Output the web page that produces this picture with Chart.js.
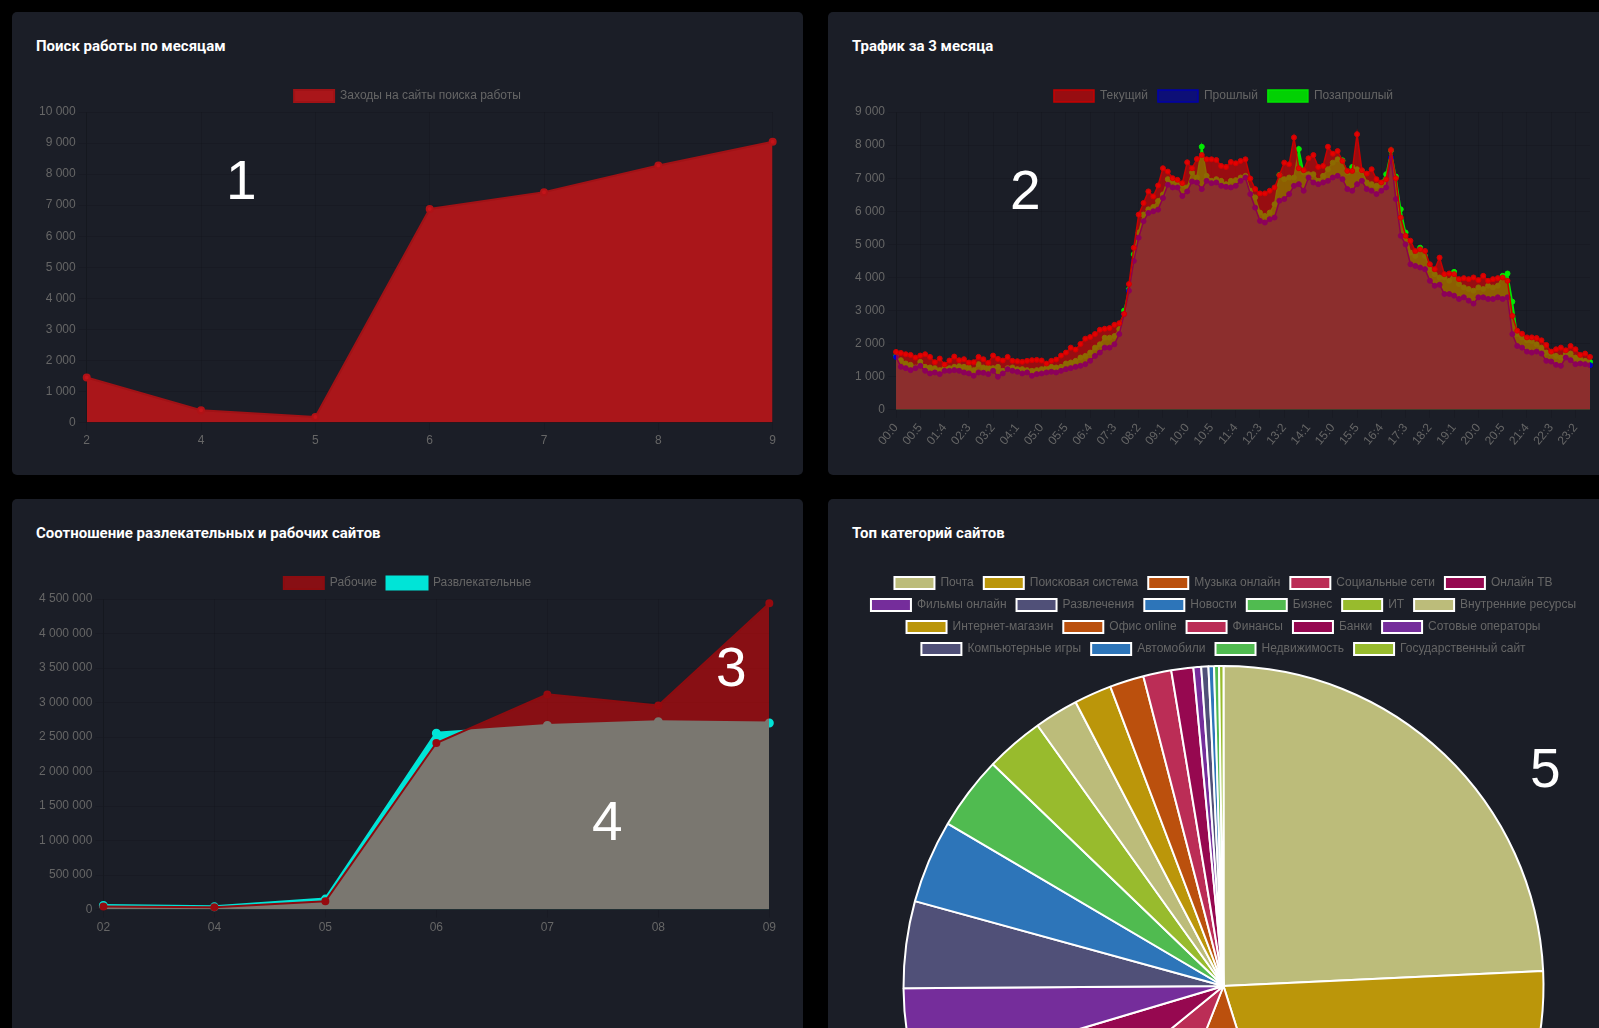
<!DOCTYPE html>
<html lang="ru">
<head>
<meta charset="utf-8">
<title>Статистика</title>
<script src="https://cdn.jsdelivr.net/npm/chart.js@4.4.1/dist/chart.umd.min.js"></script>
<style>
  html, body { margin: 0; padding: 0; background: #000; overflow: hidden; width: 1599px; height: 1028px; }
  .grid { display: grid; grid-template-columns: 791px 791px; column-gap: 25px; row-gap: 24px; padding: 12px; width: 1631px; box-sizing: border-box; }
  .card { background: #1b1e27; border-radius: 5px; padding: 24px; box-sizing: border-box; }
  .card.top { height: 463px; }
  .card h3 { margin: 0 0 24px 0; font: bold 15px/20px Roboto, "Liberation Sans", sans-serif; color: #fff; }
  .box { position: relative; width: 743px; height: 371px; }
  .box.tall { height: 740px; }
  .mark { position: absolute; color: #fff; font: 55px/55px "Liberation Sans", Arial, sans-serif; }
</style>
</head>
<body>
<div class="grid">
  <div class="card top">
    <h3>Поиск работы по месяцам</h3>
    <div class="box"><canvas id="jobChart"></canvas></div>
  </div>
  <div class="card top">
    <h3>Трафик за 3 месяца</h3>
    <div class="box"><canvas id="trafficChart"></canvas></div>
  </div>
  <div class="card">
    <h3>Соотношение разлекательных и рабочих сайтов</h3>
    <div class="box"><canvas id="ratioChart"></canvas></div>
  </div>
  <div class="card">
    <h3>Топ категорий сайтов</h3>
    <div class="box tall"><canvas id="categoryChart"></canvas></div>
  </div>
</div>
<div class="mark" style="left:226px;top:153px">1</div>
<div class="mark" style="left:1010px;top:163px">2</div>
<div class="mark" style="left:716px;top:640px">3</div>
<div class="mark" style="left:592px;top:794px">4</div>
<div class="mark" style="left:1530px;top:741px">5</div>

<script>
// ---- данные ----
const jobMonths = ['2', '4', '5', '6', '7', '8', '9'];
const jobVisits = [1450, 400, 180, 6880, 7420, 8280, 9040];

const trafficTimes = [
  '00:0','00:1','00:2','00:3','00:4','00:5','01:0','01:1','01:2','01:3','01:4','01:5',
  '02:0','02:1','02:2','02:3','02:4','02:5','03:0','03:1','03:2','03:3','03:4','03:5',
  '04:0','04:1','04:2','04:3','04:4','04:5','05:0','05:1','05:2','05:3','05:4','05:5',
  '06:0','06:1','06:2','06:3','06:4','06:5','07:0','07:1','07:2','07:3','07:4','07:5',
  '08:0','08:1','08:2','08:3','08:4','08:5','09:0','09:1','09:2','09:3','09:4','09:5',
  '10:0','10:1','10:2','10:3','10:4','10:5','11:0','11:1','11:2','11:3','11:4','11:5',
  '12:0','12:1','12:2','12:3','12:4','12:5','13:0','13:1','13:2','13:3','13:4','13:5',
  '14:0','14:1','14:2','14:3','14:4','14:5','15:0','15:1','15:2','15:3','15:4','15:5',
  '16:0','16:1','16:2','16:3','16:4','16:5','17:0','17:1','17:2','17:3','17:4','17:5',
  '18:0','18:1','18:2','18:3','18:4','18:5','19:0','19:1','19:2','19:3','19:4','19:5',
  '20:0','20:1','20:2','20:3','20:4','20:5','21:0','21:1','21:2','21:3','21:4','21:5',
  '22:0','22:1','22:2','22:3','22:4','22:5','23:0','23:1','23:2','23:3','23:4','23:5'
];
const trafficCurrent = [
  1750,1720,1680,1660,1580,1640,1680,1600,1440,1550,
  1370,1490,1610,1500,1530,1430,1440,1600,1530,1420,
  1640,1540,1490,1600,1480,1470,1450,1480,1500,1510,
  1490,1400,1480,1520,1640,1730,1880,1820,1990,2150,
  2200,2290,2420,2450,2470,2570,2620,2900,3800,4900,
  5900,6250,6600,6450,6780,7300,7200,7000,6950,6850,
  7480,7300,7580,7700,7570,7570,7550,7370,7340,7490,
  7450,7520,7570,6990,6670,6540,6540,6620,6720,7090,
  7470,7420,8230,7300,7240,7600,7700,7340,7370,7950,
  7740,7820,7520,7220,7220,8330,7240,7140,7270,6970,
  6870,6970,7850,7000,5810,5260,5110,4800,4850,4800,
  4400,4250,4600,4100,4120,4100,3950,3980,3950,4000,
  3920,4050,3900,3950,3980,4000,3900,2840,2390,2300,
  2190,2190,2170,2100,1960,1760,1830,1880,1800,1930,
  1830,1660,1700,1600
];
const trafficPrev = [
  1600,1300,1260,1200,1260,1330,1180,1100,1130,1080,
  1180,1180,1200,1180,1130,1100,1030,1130,1120,1080,
  1180,1000,1100,1230,1180,1150,1100,1130,1030,1080,
  1100,1130,1150,1130,1180,1230,1260,1300,1330,1380,
  1480,1630,1730,1880,1880,1980,2290,2890,3600,4500,
  5200,5700,5950,6000,6050,6400,6800,6720,6720,6460,
  6600,6900,6870,6670,6920,6850,6870,6770,6740,6720,
  6770,6920,7020,6520,6110,5710,5660,5760,5810,6320,
  6370,6520,6770,6820,6620,7020,6870,6820,6870,6920,
  7020,7070,6970,6670,6620,6820,6920,6670,6620,6520,
  6620,6720,7620,6370,5260,5000,4400,4350,4300,4250,
  3900,3750,3780,3500,3500,3450,3350,3400,3300,3210,
  3400,3400,3350,3350,3400,3350,3400,2290,1930,1880,
  1760,1730,1760,1700,1480,1460,1360,1330,1580,1500,
  1380,1400,1380,1350
];
const trafficPrevPrev = [
  1620,1500,1400,1360,1280,1450,1300,1280,1260,1200,
  1280,1260,1300,1320,1300,1280,1200,1380,1280,1280,
  1260,1300,1180,1260,1280,1230,1230,1200,1180,1200,
  1230,1280,1300,1280,1300,1400,1430,1480,1580,1630,
  1730,1880,1980,2180,2180,2230,2440,3000,3640,4700,
  5360,5900,6060,6130,6310,6510,6970,6920,6820,6800,
  6720,7170,7020,7950,7070,6920,6970,6920,6820,6920,
  6940,7020,7070,6620,6420,5960,5860,5960,6210,7100,
  6970,7020,7020,7880,7170,7120,7120,6920,7070,7270,
  7470,7570,7540,7170,7340,7270,7220,6870,6820,6770,
  6850,7120,7840,7050,6060,5360,4750,4650,4900,4650,
  4250,4100,4000,4000,3900,4170,3800,3700,3650,3600,
  3700,3650,3750,3700,3750,4050,4120,3270,2290,2190,
  2100,2080,1980,1880,1730,1700,1630,1580,1680,1700,
  1580,1530,1480,1450
];

const ratioMonths = ['02', '04', '05', '06', '07', '08', '09'];
const ratioWork = [45000, 35000, 122000, 2414000, 3118000, 2956000, 4440000];
const ratioFun = [60000, 40000, 152000, 2556000, 2668000, 2723000, 2703000];

const categoryNames = [
  'Почта', 'Поисковая система', 'Музыка онлайн', 'Социальные сети', 'Онлайн ТВ',
  'Фильмы онлайн', 'Развлечения', 'Новости', 'Бизнес', 'ИТ',
  'Внутренние ресурсы', 'Интернет-магазин', 'Офис online', 'Финансы', 'Банки',
  'Сотовые операторы', 'Компьютерные игры', 'Автомобили', 'Недвижимость', 'Государственный сайт'
];
const categoryVisits = [
  8730, 7520, 3900, 2920, 2260, 1620, 1580, 1510, 1340, 1060,
  800, 680, 620, 510, 400, 140, 130, 100, 90, 80
];

// ---- оформление ----
const palette = ['#bcbc7a', '#bb960a', '#bb500d', '#bb2d56', '#960850',
                 '#752d9b', '#505078', '#2d75b9', '#50bb50', '#98bb2d'];

Chart.defaults.font.family = "'Liberation Sans', Arial, sans-serif";
Chart.defaults.font.size = 12;
Chart.defaults.color = '#666';
Chart.defaults.animation = false;

function lineScales(yMax, yStep) {
  return {
    x: { grid: { color: 'rgba(0,0,0,0.1)' } },
    y: {
      beginAtZero: true,
      max: yMax,
      ticks: { stepSize: yStep },
      grid: { color: 'rgba(0,0,0,0.1)' }
    }
  };
}

new Chart(document.getElementById('jobChart'), {
  type: 'line',
  data: {
    labels: jobMonths,
    datasets: [{
      label: 'Заходы на сайты поиска работы',
      data: jobVisits,
      fill: 'origin',
      backgroundColor: 'rgb(170,22,26)',
      borderColor: 'rgb(160,18,22)',
      borderWidth: 2,
      pointBackgroundColor: 'rgb(195,20,26)',
      pointBorderColor: 'rgb(175,18,22)',
      pointRadius: 3,
      tension: 0
    }]
  },
  options: {
    maintainAspectRatio: false,
    locale: 'ru-RU',
    scales: lineScales(10000, 1000)
  }
});

new Chart(document.getElementById('trafficChart'), {
  type: 'line',
  data: {
    labels: trafficTimes,
    datasets: [
      {
        label: 'Текущий',
        data: trafficCurrent,
        fill: 'origin',
        backgroundColor: 'rgba(255,0,0,0.55)',
        borderColor: 'rgb(200,0,0)',
        borderWidth: 1.5,
        pointBackgroundColor: 'rgba(235,0,0,0.9)',
        pointBorderColor: 'rgb(210,0,0)',
        pointRadius: 2.5,
        pointBorderWidth: 1
      },
      {
        label: 'Прошлый',
        data: trafficPrev,
        fill: 'origin',
        backgroundColor: 'rgba(0,0,200,0.5)',
        borderColor: 'rgb(0,0,170)',
        borderWidth: 1.5,
        pointBackgroundColor: 'rgb(0,0,200)',
        pointBorderColor: 'rgb(0,0,200)',
        pointRadius: 2.5,
        pointBorderWidth: 1
      },
      {
        label: 'Позапрошлый',
        data: trafficPrevPrev,
        fill: 'origin',
        backgroundColor: 'rgba(0,225,0,0.92)',
        borderColor: 'rgb(0,230,0)',
        borderWidth: 1.5,
        pointBackgroundColor: 'rgb(0,235,0)',
        pointBorderColor: 'rgb(0,235,0)',
        pointRadius: 2.5,
        pointBorderWidth: 1
      }
    ]
  },
  options: {
    maintainAspectRatio: false,
    locale: 'ru-RU',
    scales: (function () {
      const s = lineScales(9000, 1000);
      s.x.ticks = { minRotation: 50, maxRotation: 50 };
      return s;
    })()
  }
});

new Chart(document.getElementById('ratioChart'), {
  type: 'line',
  data: {
    labels: ratioMonths,
    datasets: [
      {
        label: 'Рабочие',
        data: ratioWork,
        fill: 'origin',
        backgroundColor: 'rgba(255,0,0,0.48)',
        borderColor: 'rgb(140,12,16)',
        borderWidth: 2,
        pointBackgroundColor: 'rgb(150,10,15)',
        pointBorderColor: 'rgb(150,10,15)',
        pointRadius: 3
      },
      {
        label: 'Развлекательные',
        data: ratioFun,
        fill: 'origin',
        backgroundColor: 'rgb(0,228,215)',
        borderColor: 'rgb(0,228,215)',
        borderWidth: 3,
        pointBackgroundColor: 'rgb(0,228,215)',
        pointBorderColor: 'rgb(0,228,215)',
        pointRadius: 3
      }
    ]
  },
  options: {
    maintainAspectRatio: false,
    locale: 'ru-RU',
    scales: lineScales(4500000, 500000)
  }
});

new Chart(document.getElementById('categoryChart'), {
  type: 'pie',
  data: {
    labels: categoryNames,
    datasets: [{
      data: categoryVisits,
      backgroundColor: categoryNames.map((n, i) => palette[i % palette.length]),
      borderColor: '#ffffff',
      borderWidth: 2
    }]
  },
  options: {
    maintainAspectRatio: false,
    locale: 'ru-RU'
  }
});
</script>
</body>
</html>
